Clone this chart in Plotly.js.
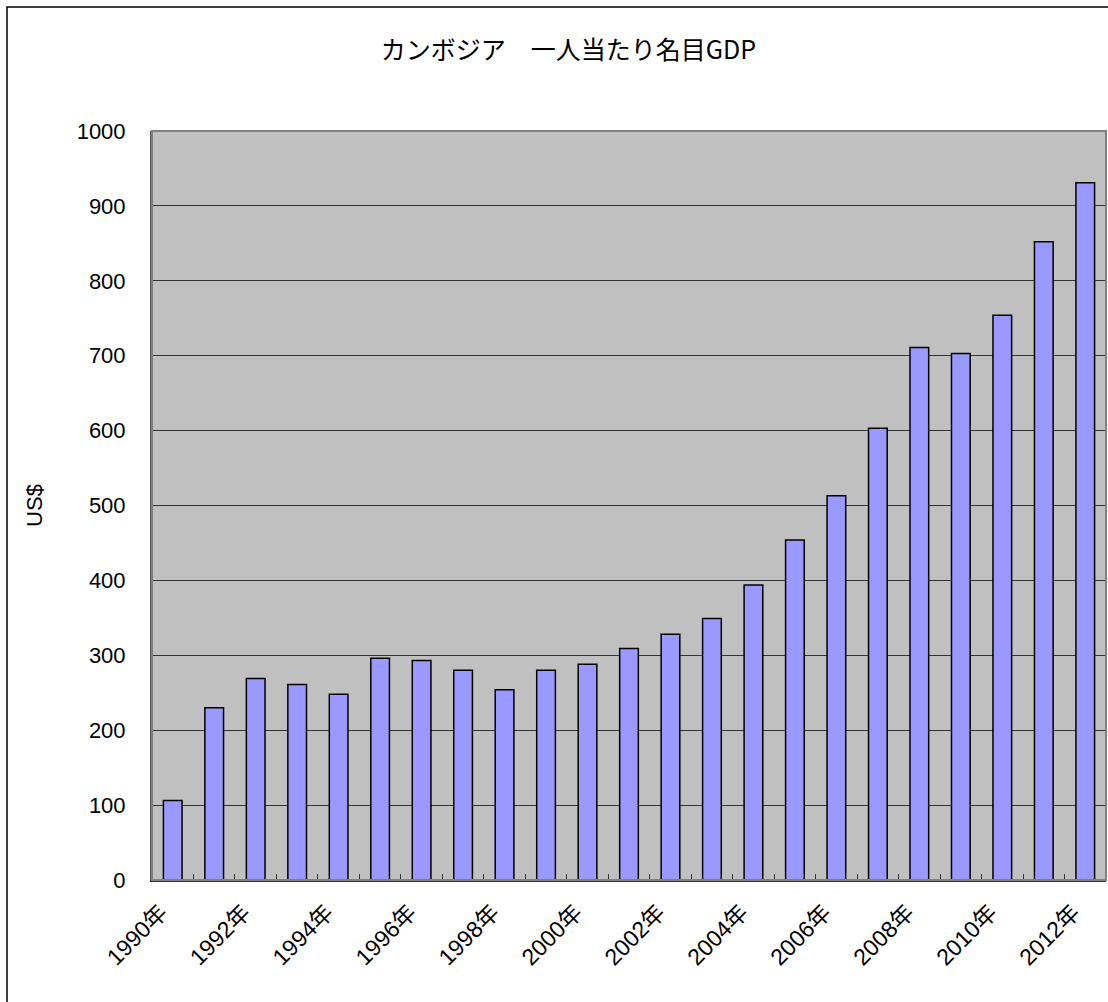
<!DOCTYPE html>
<html>
<head>
<meta charset="utf-8">
<script src="https://cdn.plot.ly/plotly-3.0.1.min.js"></script>
<style>html,body{margin:0;padding:0;background:#fff;}#chart{width:1108px;height:1002px;}</style>
</head>
<body>
<div id="chart"></div>
<script>
const years = [1990,1991,1992,1993,1994,1995,1996,1997,1998,1999,2000,2001,2002,2003,2004,2005,2006,2007,2008,2009,2010,2011,2012];
const gdpPerCapita = [106,230,269,261,248,296,293,280,254,280,288,309,328,349,394,454,513,603,711,703,754,852,931];
const labelYears = [1990,1992,1994,1996,1998,2000,2002,2004,2006,2008,2010,2012];
const labelText = labelYears.map(y => y + "年");
const boundaries = years.slice(0, -1).map(y => y + 0.5);

const W = 1108, H = 1002;
const m = {l: 152, r: 2, t: 131, b: 122};
const pw = W - m.l - m.r, ph = H - m.t - m.b;
const font = "Liberation Sans, Arial, Noto Sans CJK JP, sans-serif";

const trace = {
  type: "bar",
  x: years,
  y: gdpPerCapita,
  width: 0.45,
  marker: {color: "#9999FF", line: {color: "#000000", width: 1.5}},
  hoverinfo: "x+y"
};

const layout = {
  width: W, height: H,
  margin: m,
  paper_bgcolor: "#ffffff",
  plot_bgcolor: "#C0C0C0",
  showlegend: false,
  font: {family: font, size: 22, color: "#000"},
  title: {text: "カンボジア　一人当たり名目GDP", x: 0.513, xref: "container", xanchor: "center", y: 0.95, yanchor: "middle",
          font: {family: "Noto Sans CJK JP, sans-serif", size: 25, color: "#000"}},
  xaxis: {
    range: [1989.5, 2012.5],
    tickmode: "array",
    tickvals: labelYears,
    ticktext: labelText,
    tickangle: -45,
    ticks: "",
    ticklabelshift: -12,
    ticklabelstandoff: 8,
    showgrid: false,
    zeroline: false,
    showline: true, linecolor: "#333", linewidth: 2, mirror: false,
    tickfont: {family: "Liberation Sans, Noto Sans CJK JP, sans-serif", size: 23},
    minor: {tickmode: "array", tickvals: boundaries, ticks: "inside", ticklen: 6, tickwidth: 1, tickcolor: "#333", showgrid: false}
  },
  yaxis: {
    range: [0, 1000],
    tickmode: "linear", tick0: 0, dtick: 100,
    ticks: "",
    ticklabelstandoff: 20,
    showgrid: true, gridcolor: "#333", gridwidth: 1,
    zeroline: false,
    showline: true, linecolor: "#555", linewidth: 2, mirror: false,
    tickfont: {family: font, size: 22},
    title: {text: "US$", standoff: 28, font: {family: font, size: 22}}
  },
  shapes: [
    {type: "rect", xref: "paper", yref: "paper", x0: 0, x1: 1, y0: 0, y1: 1,
     line: {color: "#808080", width: 2}, fillcolor: "rgba(0,0,0,0)", layer: "above"},
    {type: "rect", xref: "paper", yref: "paper",
     x0: (7 - m.l) / pw, x1: (W + 5 - m.l) / pw,
     y0: (H - m.b - (H + 5)) / ph, y1: (H - m.b - 7) / ph,
     line: {color: "#000", width: 1.5}, fillcolor: "rgba(0,0,0,0)", layer: "below"}
  ]
};

Plotly.newPlot("chart", [trace], layout, {displayModeBar: false, staticPlot: true});
</script>
</body>
</html>
